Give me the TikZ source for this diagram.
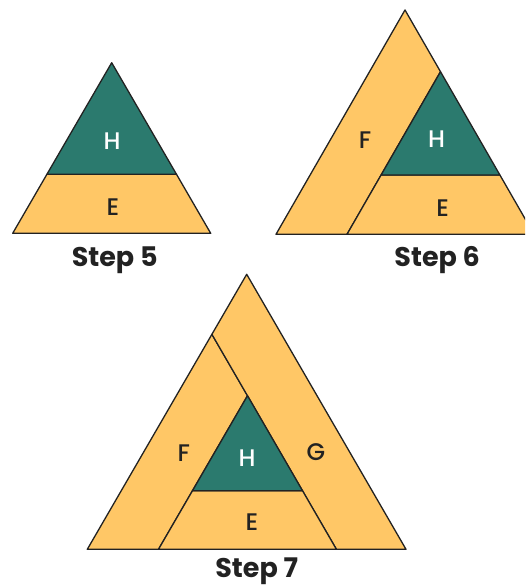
\documentclass[tikz,border=0pt]{standalone}
\usepackage{fontspec}
\setmainfont{Poppins}
\newfontfamily\midfont{Poppins}[UprightFont=* Medium]
\definecolor{tilefill}{HTML}{FFC766}
\definecolor{corefill}{HTML}{2B7A6E}
\definecolor{inkline}{HTML}{222222}

\begin{document}
\begin{tikzpicture}[x=1pt, y=-1pt,
	tile/.style={fill=tilefill, draw=inkline, line width=1.3pt, line join=round},
	core/.style={fill=corefill, draw=inkline, line width=1.3pt, line join=round},
	letter/.style={anchor=base, text=inkline, font=\midfont\fontsize{24}{24}\selectfont},
	caption/.style={anchor=base, inner sep=1pt, text=inkline, font=\bfseries\fontsize{27}{27}\selectfont}]
	\useasboundingbox (0,0) rectangle (525,586);
	\clip (0,0) rectangle (525,586);
	% step 5
	\filldraw[tile] (12.7,233.3) -- (46.9,174.3) -- (176.5,174.3) -- (210.7,233.3) -- cycle;
	\filldraw[core] (46.9,174.3) -- (111.7,62.7) -- (176.5,174.3) -- cycle;
	\node[letter, text=white] (h5) at (112,149.3) {H};
	\node[letter] (e5) at (113,215.7) {E};
	\node[caption] (step5) at (114.7,266.7) {Step 5};
	% step 6
	\filldraw[tile] (276,234.3) -- (405,10) -- (440.5,71.7) -- (347,234.3) -- cycle;
	\filldraw[tile] (347,234.3) -- (381.1,175) -- (499.9,175) -- (534,234.3) -- cycle;
	\filldraw[core] (381.1,175) -- (440.5,71.7) -- (499.9,175) -- cycle;
	\node[letter] (f6) at (365,148.3) {F};
	\node[letter, text=white] (h6) at (436.7,147.3) {H};
	\node[letter] (e6) at (442.7,216.7) {E};
	\node[caption] (step6) at (437.2,266.7) {Step 6};
	% step 7
	\filldraw[tile] (87.3,549.3) -- (211.9,334.3) -- (247.5,395.7) -- (158.5,549.3) -- cycle;
	\filldraw[tile] (211.9,334.3) -- (246.7,274.3) -- (406,549.3) -- (336.4,549.3) -- cycle;
	\filldraw[tile] (158.5,549.3) -- (192.5,490.7) -- (302.5,490.7) -- (336.4,549.3) -- cycle;
	\filldraw[core] (192.5,490.7) -- (247.5,395.7) -- (302.5,490.7) -- cycle;
	\node[letter] (f7) at (183.8,461.7) {F};
	\node[letter, text=white] (h7) at (247,466.7) {H};
	\node[letter] (g7) at (315.8,460) {G};
	\node[letter] (e7) at (252,530.7) {E};
	\node[caption] (step7) at (256.7,577) {Step 7};
\end{tikzpicture}
\end{document}
